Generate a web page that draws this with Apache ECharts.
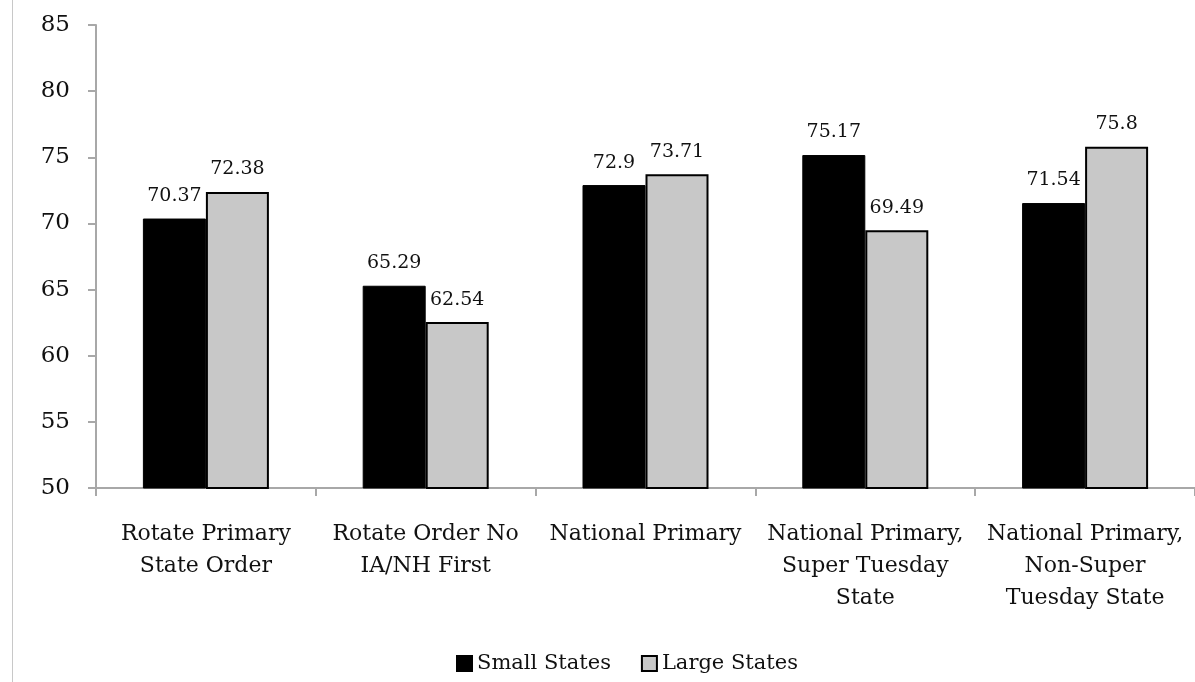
<!DOCTYPE html>
<html>
<head>
<meta charset="utf-8">
<script src="https://cdn.jsdelivr.net/npm/echarts@6/dist/echarts.min.js"></script>
<style>
  html, body { margin: 0; padding: 0; background: #fff; }
  #chart { width: 1195px; height: 682px; }
</style>
</head>
<body>
<div id="chart"></div>
<script>
const categories = [
  "Rotate Primary\nState Order",
  "Rotate Order No\nIA/NH First",
  "National Primary",
  "National Primary,\nSuper Tuesday\nState",
  "National Primary,\nNon-Super\nTuesday State",
];
const smallStates = [70.37, 65.29, 72.9, 75.17, 71.54];
const largeStates = [72.38, 62.54, 73.71, 69.49, 75.8];
const yTicks = { min: 50, max: 85, interval: 5 };

const font = "DejaVu Serif";
const axisGrey = "#a8a8a8";

const chart = echarts.init(document.getElementById("chart"));

const labelStyle = {
  show: true,
  position: "top",
  distance: 13,
  color: "#111",
  fontFamily: font,
  fontSize: 19,
};

chart.setOption({
  animation: false,
  textStyle: { fontFamily: font },
  grid: { left: 96, right: 0, top: 25, bottom: 194 },
  legend: {
    bottom: 3,
    left: 451,
    itemWidth: 15,
    itemHeight: 15,
    itemGap: 30,
    textStyle: { fontFamily: font, fontSize: 21, color: "#111" },
    data: [
      { name: "Small States", icon: "rect" },
      { name: "Large States", icon: "rect" },
    ],
  },
  graphic: [
    {
      type: "line",
      shape: { x1: 12.5, y1: 0, x2: 12.5, y2: 682 },
      style: { stroke: "#c8c8c8", lineWidth: 1 },
    },
  ],
  xAxis: {
    type: "category",
    data: categories,
    axisLine: { lineStyle: { color: axisGrey, width: 2 } },
    axisTick: { show: true, length: 8, interval: 0, lineStyle: { color: axisGrey, width: 2 } },
    axisLabel: {
      interval: 0,
      margin: 30,
      color: "#111",
      fontFamily: font,
      fontSize: 22,
      lineHeight: 32,
    },
  },
  yAxis: {
    type: "value",
    min: yTicks.min,
    max: yTicks.max,
    interval: yTicks.interval,
    splitLine: { show: false },
    axisLine: { show: true, lineStyle: { color: axisGrey, width: 2 } },
    axisTick: { show: true, length: 8, lineStyle: { color: axisGrey, width: 2 } },
    axisLabel: {
      margin: 26,
      color: "#111",
      fontFamily: font,
      fontSize: 23,
      padding: [7, 0, 0, 0],
    },
  },
  series: [
    {
      name: "Small States",
      type: "bar",
      data: smallStates,
      barWidth: 63,
      barGap: "0%",
      itemStyle: { color: "#000", borderColor: "#000", borderWidth: 1 },
      label: labelStyle,
    },
    {
      name: "Large States",
      type: "bar",
      data: largeStates,
      barWidth: 63,
      barGap: "0%",
      itemStyle: { color: "#c8c8c8", borderColor: "#000", borderWidth: 2 },
      label: labelStyle,
    },
  ],
});
</script>
</body>
</html>
